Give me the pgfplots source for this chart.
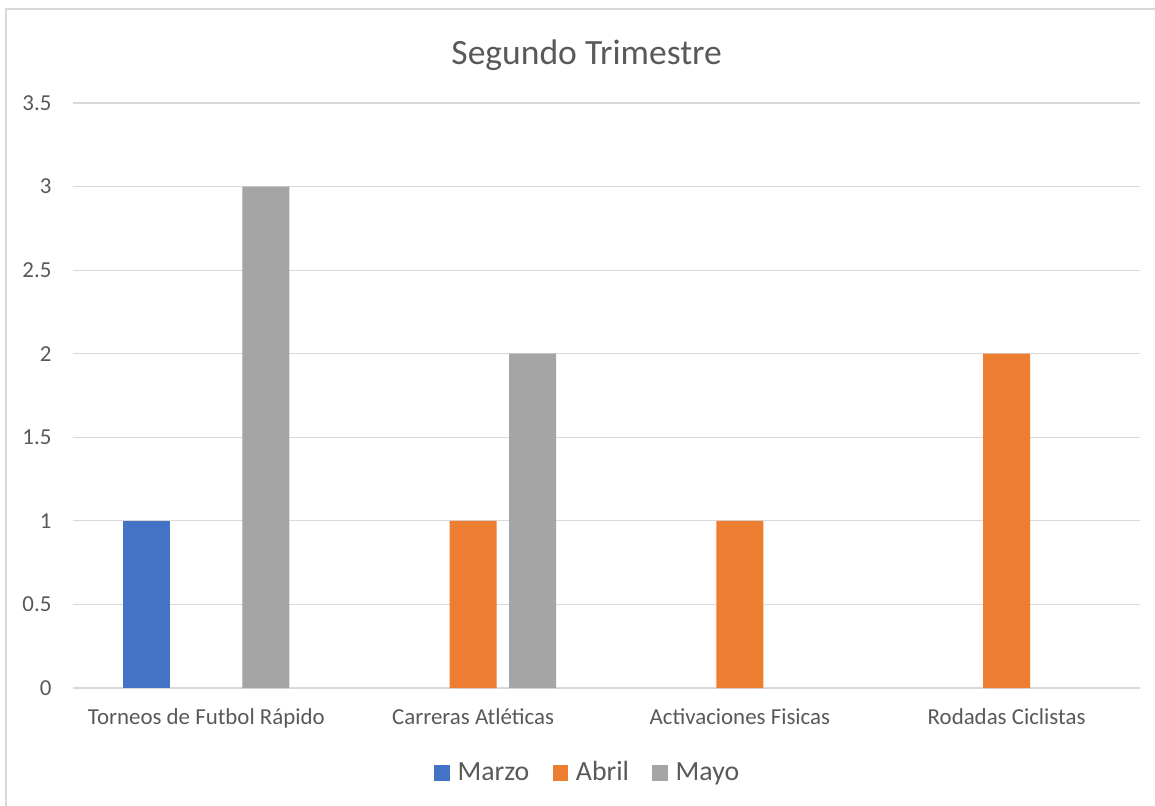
\documentclass[border=0pt]{standalone}
\usepackage{fontspec}
\setmainfont{Carlito}
\usepackage{pgfplots}
\pgfplotsset{compat=1.18}
\definecolor{marzo}{HTML}{4472C4}
\definecolor{abril}{HTML}{ED7D31}
\definecolor{mayo}{HTML}{A5A5A5}
\definecolor{gridc}{HTML}{D9D9D9}
\definecolor{txt}{HTML}{595959}
\begin{document}
\begin{tikzpicture}
\path[use as bounding box] (0,0) rectangle (519.75pt,362.25pt);
\draw[gridc, line width=0.7pt] (2.7pt,-5pt) |- (530pt,358.2pt);
\node[anchor=base, text=txt, font=\fontsize{16}{19}\selectfont] at (264pt,333pt) {Segundo Trimestre};
\begin{axis}[
  at={(32.85pt,52.65pt)}, anchor=south west,
  scale only axis,
  width=480.15pt, height=263.25pt,
  ybar=0pt,
  bar width=0.176,
  xmin=-0.5, xmax=3.5,
  ymin=0, ymax=3.5,
  ytick={0,0.5,...,3.5},
  xtick={0,1,2,3},
  xticklabels={Torneos de Futbol Rápido, Carreras Atléticas, Activaciones Fisicas, Rodadas Ciclistas},
  axis line style={draw=none},
  ymajorgrids,
  grid style={gridc, line width=0.5pt},
  major tick length=0pt,
  tick style={draw=none},
  /pgf/number format/assume math mode=true,
  ticklabel style={font=\fontsize{10.3}{12}\selectfont, text=txt},
  yticklabel style={inner sep=0pt, xshift=-9.5pt},
  xticklabel style={anchor=base, inner sep=0pt, yshift=-16.6pt},
  legend columns=3,
  legend style={at={(0.4835,-0.1453)}, anchor=center, draw=none, fill=none,
    font=\fontsize{12.5}{15}\selectfont, text=txt,
    /tikz/every odd column/.append style={column sep=1.5pt},
    /tikz/every even column/.append style={column sep=8.5pt}},
  legend image code/.code={\fill[#1] (0pt,-3.5pt) rectangle (7pt,3.5pt);},
]
% zero values are left out (Excel draws nothing for them)
\addplot[fill=marzo, draw=none, bar shift=-0.223] coordinates {(0,1)};
\addplot[fill=abril, draw=none, bar shift=0] coordinates {(1,1) (2,1) (3,2)};
\addplot[fill=mayo, draw=none, bar shift=0.223] coordinates {(0,3) (1,2)};
\legend{Marzo, Abril, Mayo}
\end{axis}
\end{tikzpicture}
\end{document}
